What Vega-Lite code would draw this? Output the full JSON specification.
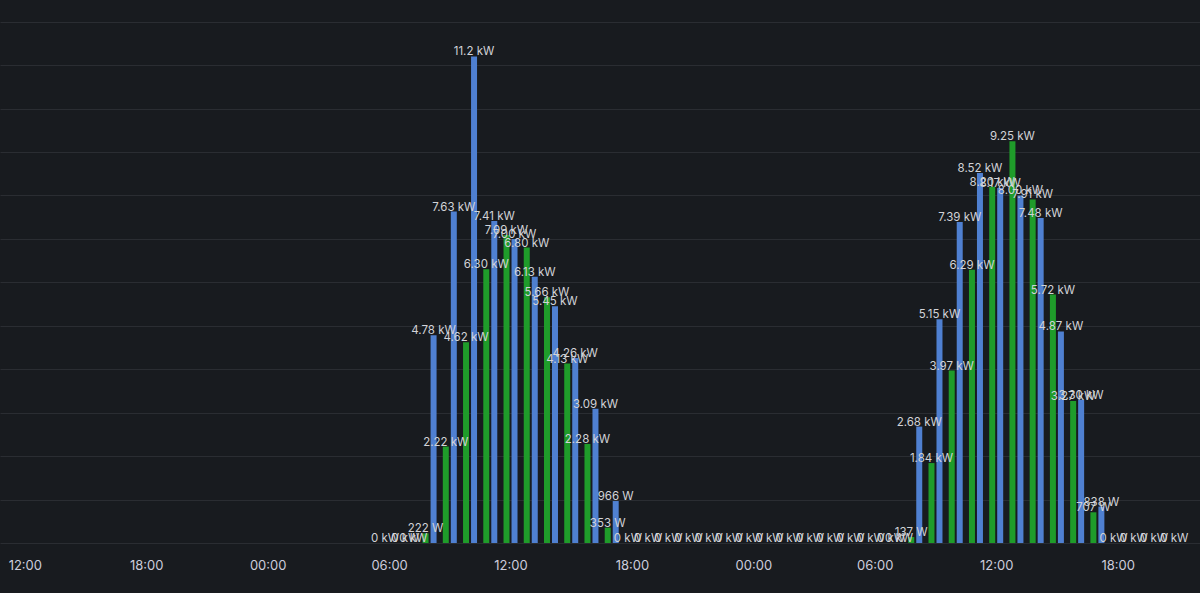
{
  "$schema": "https://vega.github.io/schema/vega-lite/v6.json",
  "width": 1200,
  "height": 543,
  "padding": 0,
  "background": "#181b1f",
  "config": {
    "view": {"stroke": null}
  },
  "data": {
    "values": [
      {"t": "2024-06-11T06:00:00Z", "s": "g", "kw": 0, "label": "0 kW"},
      {"t": "2024-06-11T07:00:00Z", "s": "g", "kw": 0, "label": "0 kW"},
      {"t": "2024-06-11T08:00:00Z", "s": "g", "kw": 0.222, "label": "222 W"},
      {"t": "2024-06-11T09:00:00Z", "s": "g", "kw": 2.22, "label": "2.22 kW"},
      {"t": "2024-06-11T10:00:00Z", "s": "g", "kw": 4.62, "label": "4.62 kW"},
      {"t": "2024-06-11T11:00:00Z", "s": "g", "kw": 6.30, "label": "6.30 kW"},
      {"t": "2024-06-11T12:00:00Z", "s": "g", "kw": 7.09, "label": "7.09 kW"},
      {"t": "2024-06-11T13:00:00Z", "s": "g", "kw": 6.80, "label": "6.80 kW"},
      {"t": "2024-06-11T14:00:00Z", "s": "g", "kw": 5.66, "label": "5.66 kW"},
      {"t": "2024-06-11T15:00:00Z", "s": "g", "kw": 4.13, "label": "4.13 kW"},
      {"t": "2024-06-11T16:00:00Z", "s": "g", "kw": 2.28, "label": "2.28 kW"},
      {"t": "2024-06-11T17:00:00Z", "s": "g", "kw": 0.353, "label": "353 W"},
      {"t": "2024-06-11T18:00:00Z", "s": "g", "kw": 0, "label": "0 kW"},
      {"t": "2024-06-11T19:00:00Z", "s": "g", "kw": 0, "label": "0 kW"},
      {"t": "2024-06-11T20:00:00Z", "s": "g", "kw": 0, "label": "0 kW"},
      {"t": "2024-06-11T21:00:00Z", "s": "g", "kw": 0, "label": "0 kW"},
      {"t": "2024-06-11T22:00:00Z", "s": "g", "kw": 0, "label": "0 kW"},
      {"t": "2024-06-11T23:00:00Z", "s": "g", "kw": 0, "label": "0 kW"},
      {"t": "2024-06-12T00:00:00Z", "s": "g", "kw": 0, "label": "0 kW"},
      {"t": "2024-06-12T01:00:00Z", "s": "g", "kw": 0, "label": "0 kW"},
      {"t": "2024-06-12T02:00:00Z", "s": "g", "kw": 0, "label": "0 kW"},
      {"t": "2024-06-12T03:00:00Z", "s": "g", "kw": 0, "label": "0 kW"},
      {"t": "2024-06-12T04:00:00Z", "s": "g", "kw": 0, "label": "0 kW"},
      {"t": "2024-06-12T05:00:00Z", "s": "g", "kw": 0, "label": "0 kW"},
      {"t": "2024-06-12T06:00:00Z", "s": "g", "kw": 0, "label": "0 kW"},
      {"t": "2024-06-12T07:00:00Z", "s": "g", "kw": 0, "label": "0 kW"},
      {"t": "2024-06-12T08:00:00Z", "s": "g", "kw": 0.137, "label": "137 W"},
      {"t": "2024-06-12T09:00:00Z", "s": "g", "kw": 1.84, "label": "1.84 kW"},
      {"t": "2024-06-12T10:00:00Z", "s": "g", "kw": 3.97, "label": "3.97 kW"},
      {"t": "2024-06-12T11:00:00Z", "s": "g", "kw": 6.29, "label": "6.29 kW"},
      {"t": "2024-06-12T12:00:00Z", "s": "g", "kw": 8.20, "label": "8.20 kW"},
      {"t": "2024-06-12T13:00:00Z", "s": "g", "kw": 9.25, "label": "9.25 kW"},
      {"t": "2024-06-12T14:00:00Z", "s": "g", "kw": 7.91, "label": "7.91 kW"},
      {"t": "2024-06-12T15:00:00Z", "s": "g", "kw": 5.72, "label": "5.72 kW"},
      {"t": "2024-06-12T16:00:00Z", "s": "g", "kw": 3.27, "label": "3.27 kW"},
      {"t": "2024-06-12T17:00:00Z", "s": "g", "kw": 0.707, "label": "707 W"},
      {"t": "2024-06-12T18:00:00Z", "s": "g", "kw": 0, "label": "0 kW"},
      {"t": "2024-06-12T19:00:00Z", "s": "g", "kw": 0, "label": "0 kW"},
      {"t": "2024-06-12T20:00:00Z", "s": "g", "kw": 0, "label": "0 kW"},
      {"t": "2024-06-12T21:00:00Z", "s": "g", "kw": 0, "label": "0 kW"},
      {"t": "2024-06-11T07:00:00Z", "s": "b", "kw": 0, "label": "0 kW"},
      {"t": "2024-06-11T08:00:00Z", "s": "b", "kw": 4.78, "label": "4.78 kW"},
      {"t": "2024-06-11T09:00:00Z", "s": "b", "kw": 7.63, "label": "7.63 kW"},
      {"t": "2024-06-11T10:00:00Z", "s": "b", "kw": 11.2, "label": "11.2 kW"},
      {"t": "2024-06-11T11:00:00Z", "s": "b", "kw": 7.41, "label": "7.41 kW"},
      {"t": "2024-06-11T12:00:00Z", "s": "b", "kw": 7.00, "label": "7.00 kW"},
      {"t": "2024-06-11T13:00:00Z", "s": "b", "kw": 6.13, "label": "6.13 kW"},
      {"t": "2024-06-11T14:00:00Z", "s": "b", "kw": 5.45, "label": "5.45 kW"},
      {"t": "2024-06-11T15:00:00Z", "s": "b", "kw": 4.26, "label": "4.26 kW"},
      {"t": "2024-06-11T16:00:00Z", "s": "b", "kw": 3.09, "label": "3.09 kW"},
      {"t": "2024-06-11T17:00:00Z", "s": "b", "kw": 0.966, "label": "966 W"},
      {"t": "2024-06-12T07:00:00Z", "s": "b", "kw": 0, "label": "0 kW"},
      {"t": "2024-06-12T08:00:00Z", "s": "b", "kw": 2.68, "label": "2.68 kW"},
      {"t": "2024-06-12T09:00:00Z", "s": "b", "kw": 5.15, "label": "5.15 kW"},
      {"t": "2024-06-12T10:00:00Z", "s": "b", "kw": 7.39, "label": "7.39 kW"},
      {"t": "2024-06-12T11:00:00Z", "s": "b", "kw": 8.52, "label": "8.52 kW"},
      {"t": "2024-06-12T12:00:00Z", "s": "b", "kw": 8.17, "label": "8.17 kW"},
      {"t": "2024-06-12T13:00:00Z", "s": "b", "kw": 8.00, "label": "8.00 kW"},
      {"t": "2024-06-12T14:00:00Z", "s": "b", "kw": 7.48, "label": "7.48 kW"},
      {"t": "2024-06-12T15:00:00Z", "s": "b", "kw": 4.87, "label": "4.87 kW"},
      {"t": "2024-06-12T16:00:00Z", "s": "b", "kw": 3.30, "label": "3.30 kW"},
      {"t": "2024-06-12T17:00:00Z", "s": "b", "kw": 0.838, "label": "838 W"}
    ]
  },
  "encoding": {
    "x": {
      "field": "t",
      "type": "temporal",
      "title": null,
      "scale": {"domain": [1718017271000, 1718228966000]},
      "axis": {
        "values": [1718020800000, 1718042400000, 1718064000000, 1718085600000, 1718107200000, 1718128800000, 1718150400000, 1718172000000, 1718193600000, 1718215200000],
        "labelExpr": "utcFormat(datum.value, '%H:%M')",
        "grid": false,
        "domain": false,
        "ticks": false,
        "labelFlush": false,
        "labelFont": "Inter",
        "labelFontSize": 13,
        "labelPadding": 16,
        "labelColor": "#ccccdc",
        "minExtent": 50
      }
    },
    "y": {
      "field": "kw",
      "type": "quantitative",
      "title": null,
      "scale": {"domain": [0, 12.5], "nice": false},
      "axis": {
        "values": [0, 1, 2, 3, 4, 5, 6, 7, 8, 9, 10, 11, 12],
        "labels": false,
        "ticks": false,
        "domain": false,
        "grid": true,
        "gridColor": "#2a2d32",
        "gridWidth": 1,
        "minExtent": 0
      }
    }
  },
  "layer": [
    {
      "transform": [{"filter": "datum.s === 'g'"}],
      "mark": {"type": "bar", "width": 6, "xOffset": -4, "color": "#1f9c2a"}
    },
    {
      "transform": [{"filter": "datum.s === 'b'"}],
      "mark": {"type": "bar", "width": 6, "xOffset": 4, "color": "#4f80d1"}
    },
    {
      "transform": [{"filter": "datum.s === 'g'"}],
      "mark": {"type": "text", "dx": -4, "dy": 1, "baseline": "bottom", "align": "center", "font": "Inter", "fontSize": 11.5, "color": "#d2d3d8"},
      "encoding": {"text": {"field": "label", "type": "nominal"}}
    },
    {
      "transform": [{"filter": "datum.s === 'b'"}],
      "mark": {"type": "text", "dx": 4, "dy": 1, "baseline": "bottom", "align": "center", "font": "Inter", "fontSize": 11.5, "color": "#d2d3d8"},
      "encoding": {"text": {"field": "label", "type": "nominal"}}
    }
  ]
}
